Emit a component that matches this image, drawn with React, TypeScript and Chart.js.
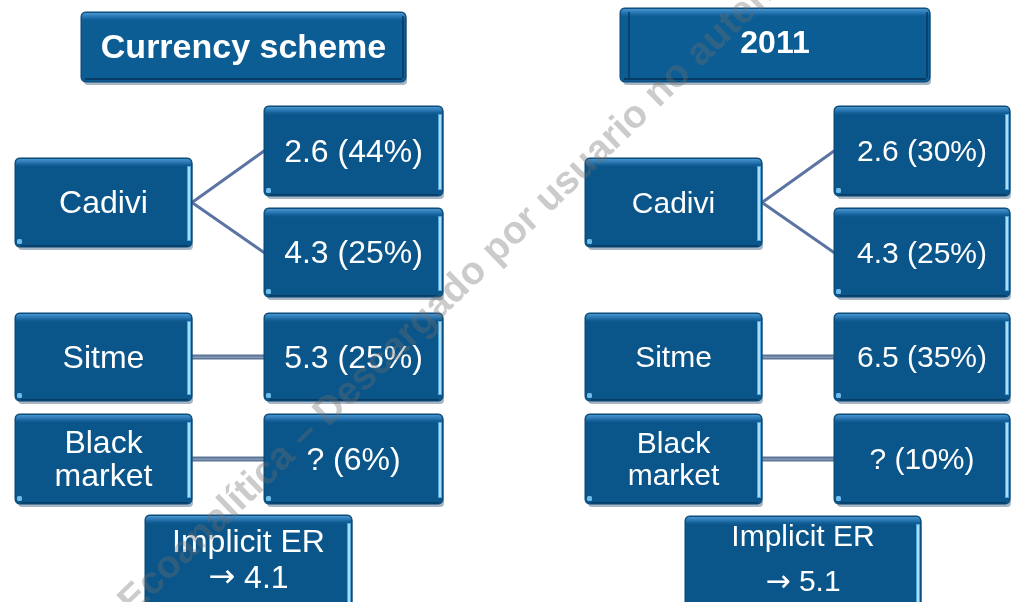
import { useEffect, useRef } from "react";
import { Chart, registerables } from "chart.js";

Chart.register(...registerables);

// ---------- data ----------
const panelTitles = ["Currency scheme", "2011"];
const schemes = ["Cadivi", "Sitme", "Black market"];
// rows of exchange-rate boxes: Cadivi (two rates), Sitme, Black market
const ratesScheme = [2.6, 4.3, 5.3, null];
const sharesScheme = [44, 25, 25, 6];
const rates2011 = [2.6, 4.3, 6.5, null];
const shares2011 = [30, 25, 35, 10];
const implicitER = [4.1, 5.1];
const watermarkText = "Ecoanalítica – Descargado por usuario no autenticado";

// ---------- layout (data units of the hidden 0..1011 x 0..602 scales) ----------
const W = 1011;
const H = 602;
const panelLayout = [
  { title: [81, 406, 12, 82], titleY: 47, titleFont: 34, leftBevel: false, scheme: [15, 192], rate: [264, 443], implicit: [145, 352, 515, 614], implicitLines: [541, 577], font: 32, lineGap: 33 },
  { title: [620, 930, 8, 82], titleY: 42, titleFont: 32, leftBevel: true, scheme: [585, 762], rate: [834, 1010], implicit: [685, 921, 516, 614], implicitLines: [536, 581], font: 30, lineGap: 32 },
];
const rateRowsY = [[106, 196], [208, 297], [313, 401], [414, 504]];
const schemeRowsY = [[158, 247], [313, 401], [414, 504]];

const fmt = (r: number | null, s: number) => `${r === null ? "?" : r} (${s}%)`;
const FONT = '"Liberation Sans", Arial, sans-serif';

function roundRect(ctx: CanvasRenderingContext2D, x: number, y: number, w: number, h: number, r: number) {
  ctx.beginPath();
  ctx.moveTo(x + r, y);
  ctx.lineTo(x + w - r, y);
  ctx.quadraticCurveTo(x + w, y, x + w, y + r);
  ctx.lineTo(x + w, y + h - r);
  ctx.quadraticCurveTo(x + w, y + h, x + w - r, y + h);
  ctx.lineTo(x + r, y + h);
  ctx.quadraticCurveTo(x, y + h, x, y + h - r);
  ctx.lineTo(x, y + r);
  ctx.quadraticCurveTo(x, y, x + r, y);
  ctx.closePath();
}

function drawBox(ctx: CanvasRenderingContext2D, x0: number, y0: number, x1: number, y1: number, isTitle: boolean, leftBevel = false) {
  const w = x1 - x0;
  const h = y1 - y0;
  ctx.save();
  // shadow
  ctx.fillStyle = "rgba(80,110,140,0.5)";
  roundRect(ctx, x0 + 3, y0 + 3, w - 2, h, 4);
  ctx.fill();
  // body
  ctx.fillStyle = isTitle ? "#0b5d94" : "#0a5589";
  roundRect(ctx, x0, y0, w, h, 5);
  ctx.fill();
  ctx.strokeStyle = "#0a4670";
  ctx.lineWidth = 1;
  ctx.stroke();
  // top bevel
  const g = ctx.createLinearGradient(0, y0, 0, y0 + 10);
  g.addColorStop(0, "rgba(90,165,220,0.95)");
  g.addColorStop(0.5, "rgba(50,130,195,0.65)");
  g.addColorStop(1, "rgba(10,85,137,0)");
  ctx.fillStyle = g;
  roundRect(ctx, x0 + 1, y0 + 1, w - 2, 10, 4);
  ctx.fill();
  if (isTitle) {
    if (leftBevel) {
      ctx.fillStyle = "rgba(5,60,100,0.8)";
      ctx.fillRect(x0 + 8, y0 + 4, 2, h - 8);
    }
    ctx.fillStyle = "rgba(5,60,100,0.8)";
    ctx.fillRect(x1 - 4, y0 + 4, 2, h - 8);
    ctx.fillStyle = "rgba(5,55,95,0.9)";
    ctx.fillRect(x0 + 4, y1 - 4, w - 8, 2);
  } else {
    // right highlight
    ctx.fillStyle = "#4fa6dc";
    ctx.fillRect(x1 - 5, y0 + 8, 4, h - 14);
    ctx.fillStyle = "#a9def8";
    ctx.fillRect(x1 - 4, y0 + 9, 2, h - 16);
    // bottom-left dot
    ctx.fillStyle = "#6dbce9";
    roundRect(ctx, x0 + 2, y1 - 8, 5, 5, 1.5);
    ctx.fill();
    // bottom edge
    ctx.fillStyle = "rgba(5,55,95,0.8)";
    ctx.fillRect(x0 + 6, y1 - 2, w - 10, 1.5);
  }
  ctx.restore();
}

function drawText(ctx: CanvasRenderingContext2D, text: string, cx: number, cy: number, size: number, bold: boolean, gap: number) {
  ctx.save();
  ctx.fillStyle = "#ffffff";
  ctx.font = `${bold ? "bold " : ""}${size}px ${FONT}`;
  ctx.textAlign = "center";
  ctx.textBaseline = "middle";
  const lines = text.split("\n");
  const start = cy - ((lines.length - 1) * gap) / 2 + 2;
  lines.forEach((l, i) => ctx.fillText(l, cx, start + i * gap));
  ctx.restore();
}

function drawArrowLine(ctx: CanvasRenderingContext2D, value: number, cx: number, cy: number, size: number) {
  ctx.save();
  ctx.fillStyle = "#ffffff";
  ctx.textBaseline = "middle";
  ctx.textAlign = "left";
  const arrowFont = `${size}px "DejaVu Sans", sans-serif`;
  const numFont = `${size}px ${FONT}`;
  ctx.font = arrowFont;
  const aw = ctx.measureText("\u2192").width;
  ctx.font = numFont;
  const num = ` ${value}`;
  const nw = ctx.measureText(num).width;
  const x = cx - (aw + nw) / 2;
  ctx.font = arrowFont;
  ctx.fillText("\u2192", x, cy + 2);
  ctx.font = numFont;
  ctx.fillText(num, x + aw, cy + 2);
  ctx.restore();
}

const diagramPlugin = {
  id: "diagram",
  afterDatasetsDraw(chart: any) {
    const ctx: CanvasRenderingContext2D = chart.ctx;
    const sx = (v: number) => chart.scales.x.getPixelForValue(v);
    const sy = (v: number) => chart.scales.y.getPixelForValue(v);
    const panels = [
      { rates: ratesScheme, shares: sharesScheme },
      { rates: rates2011, shares: shares2011 },
    ];
    panels.forEach((p, pi) => {
      const L = panelLayout[pi];
      const schemeL = sx(L.scheme[0]);
      const schemeR = sx(L.scheme[1]);
      const rateL = sx(L.rate[0]);
      const rateR = sx(L.rate[1]);
      // connectors
      ctx.save();
      const cadiviMid = sy((schemeRowsY[0][0] + schemeRowsY[0][1]) / 2);
      ctx.strokeStyle = "#5b74a3";
      ctx.lineWidth = 3;
      ctx.lineCap = "round";
      [0, 1].forEach((ri) => {
        ctx.beginPath();
        ctx.moveTo(schemeR, cadiviMid);
        ctx.lineTo(rateL, sy((rateRowsY[ri][0] + rateRowsY[ri][1]) / 2));
        ctx.stroke();
      });
      [1, 2].forEach((si) => {
        const yy = sy((schemeRowsY[si][0] + schemeRowsY[si][1]) / 2);
        ctx.fillStyle = "#5d7697";
        ctx.fillRect(schemeR, yy - 2.5, rateL - schemeR, 5);
        ctx.fillStyle = "#8699b6";
        ctx.fillRect(schemeR, yy - 0.5, rateL - schemeR, 1.5);
      });
      ctx.restore();

      // title
      const t = L.title;
      drawBox(ctx, sx(t[0]), sy(t[2]), sx(t[1]), sy(t[3]), true, L.leftBevel);
      drawText(ctx, panelTitles[pi], (sx(t[0]) + sx(t[1])) / 2, sy(L.titleY), L.titleFont, true, 0);

      // scheme boxes
      schemes.forEach((s, si) => {
        const y0 = sy(schemeRowsY[si][0]);
        const y1 = sy(schemeRowsY[si][1]);
        drawBox(ctx, schemeL, y0, schemeR, y1, false);
        drawText(ctx, s.replace(" ", "\n"), (schemeL + schemeR) / 2, (y0 + y1) / 2, L.font, false, L.lineGap);
      });
      // rate boxes
      p.rates.forEach((r, ri) => {
        const y0 = sy(rateRowsY[ri][0]);
        const y1 = sy(rateRowsY[ri][1]);
        drawBox(ctx, rateL, y0, rateR, y1, false);
        drawText(ctx, fmt(r, p.shares[ri]), (rateL + rateR) / 2, (y0 + y1) / 2, L.font, false, 0);
      });
      // implicit ER
      const im = L.implicit;
      drawBox(ctx, sx(im[0]), sy(im[2]), sx(im[1]), sy(im[3]), false);
      const cx = (sx(im[0]) + sx(im[1])) / 2;
      drawText(ctx, "Implicit ER", cx, sy(L.implicitLines[0]), L.font, false, 0);
      drawArrowLine(ctx, implicitER[pi], cx, sy(L.implicitLines[1]), L.font);
    });

    // watermark
    ctx.save();
    ctx.translate(sx(133), sy(616));
    ctx.rotate((-44 * Math.PI) / 180);
    ctx.font = `bold 39px ${FONT}`;
    ctx.fillStyle = "rgba(110,110,110,0.36)";
    ctx.textAlign = "left";
    ctx.textBaseline = "alphabetic";
    ctx.fillText(watermarkText, 0, 0);
    ctx.restore();
  },
};

export default function App() {
  const ref = useRef<HTMLCanvasElement | null>(null);
  useEffect(() => {
    document.body.style.margin = "0";
    document.body.style.background = "#ffffff";
    const canvas = ref.current;
    if (!canvas) return;
    const anchors = panelLayout.map((L) => ({ x: (L.title[0] + L.title[1]) / 2, y: (L.title[2] + L.title[3]) / 2 }));
    const chart = new Chart(canvas, {
      type: "scatter",
      data: {
        datasets: [{ label: "anchors", data: anchors, pointRadius: 0, pointHoverRadius: 0 }],
      },
      options: {
        animation: false,
        responsive: false,
        maintainAspectRatio: false,
        layout: { padding: 0 },
        events: [],
        plugins: { legend: { display: false }, tooltip: { enabled: false } },
        scales: {
          x: { type: "linear", min: 0, max: W, display: false },
          y: { type: "linear", min: 0, max: H, reverse: true, display: false },
        },
      },
      plugins: [diagramPlugin],
    });
    return () => chart.destroy();
  }, []);
  return (
    <div style={{ width: W, height: H, background: "#fff" }}>
      <canvas ref={ref} width={W} height={H} style={{ display: "block", width: W, height: H }} />
    </div>
  );
}
